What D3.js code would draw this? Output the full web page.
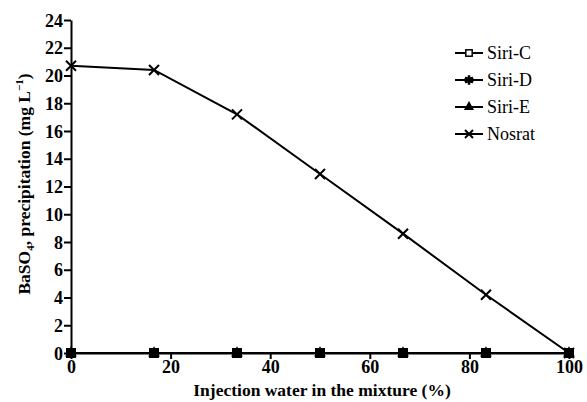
<!DOCTYPE html>
<meta charset="utf-8">
<style>
body { margin: 0; background: #fff; }
.axis path, .axis line { stroke: #000; stroke-width: 2px; }
</style>
<svg width="587" height="402"></svg>
<script src="https://cdn.jsdelivr.net/npm/d3@7"></script>
<script>
var svg = d3.select("svg");

// injection water share (%)
var xvals = [0, 16.67, 33.33, 50, 66.67, 83.33, 100];
var siriC = [0, 0, 0, 0, 0, 0, 0];
var siriD = [0, 0, 0, 0, 0, 0, 0];
var siriE = [0, 0, 0, 0, 0, 0, 0];
var nosrat = [20.7, 20.4, 17.2, 12.9, 8.6, 4.2, 0];
var names = ["Siri-C", "Siri-D", "Siri-E", "Nosrat"];
var xticks = [0, 20, 40, 60, 80, 100];
var yticks = [0, 2, 4, 6, 8, 10, 12, 14, 16, 18, 20, 22, 24];

var x = d3.scaleLinear().domain([0, 100]).range([71, 569]);
var y = d3.scaleLinear().domain([0, 24]).range([353, 20]);

var fam = "Liberation Serif";

svg.append("g").attr("class", "axis")
    .attr("transform", "translate(0,353)")
    .call(d3.axisBottom(x).tickValues(xticks).tickSize(6).tickSizeOuter(0))
    .attr("font-family", fam).attr("font-size", 18).attr("font-weight", "bold")
    .selectAll("text").attr("dy", "0.72em").attr("y", 7);

svg.append("g").attr("class", "axis")
    .attr("transform", "translate(71,0)")
    .call(d3.axisLeft(y).tickValues(yticks).tickSize(7).tickSizeOuter(0))
    .attr("font-family", fam).attr("font-size", 18).attr("font-weight", "bold")
    .selectAll("text").attr("x", -8).attr("dy", "0.34em");

var line = d3.line().x(function(d) { return x(d[0]); }).y(function(d) { return y(d[1]); });
function pairs(v) { return xvals.map(function(xv, i) { return [xv, v[i]]; }); }

var series = [siriC, siriD, siriE, nosrat];
series.forEach(function(v) {
  svg.append("path").attr("d", line(pairs(v)))
    .attr("fill", "none").attr("stroke", "#000").attr("stroke-width", 2);
});

function marker(g, k, cx, cy, big) {
  var s = big ? 1 : 0.8;
  if (k == 0) {
    g.append("rect").attr("x", cx - 4 * s).attr("y", cy - 4 * s)
      .attr("width", 8 * s).attr("height", 8 * s)
      .attr("fill", "#fff").attr("stroke", "#000").attr("stroke-width", 1.5);
  } else if (k == 1) {
    if (big) {
      g.append("rect").attr("x", cx - 5).attr("y", cy - 5).attr("width", 10).attr("height", 10).attr("fill", "#000");
    } else {
      g.append("path").attr("transform", "translate(" + cx + "," + cy + ")")
        .attr("d", d3.symbol().type(d3.symbolAsterisk).size(60)()).attr("stroke", "#000").attr("stroke-width", 2.5);
      g.append("circle").attr("cx", cx).attr("cy", cy).attr("r", 3).attr("fill", "#000");
    }
  } else if (k == 2) {
    g.append("path").attr("transform", "translate(" + cx + "," + cy + ")")
      .attr("d", d3.symbol().type(d3.symbolTriangle).size(big ? 60 : 45)()).attr("fill", "#000");
  } else {
    var r = big ? 5 : 4;
    g.append("path").attr("d", "M" + (cx - r) + "," + (cy - r) + "L" + (cx + r) + "," + (cy + r) +
      "M" + (cx - r) + "," + (cy + r) + "L" + (cx + r) + "," + (cy - r))
      .attr("stroke", "#000").attr("stroke-width", 2);
  }
}

var mk = svg.append("g");
[0, 2, 1, 3].forEach(function(k) {
  pairs(series[k]).forEach(function(p) { marker(mk, k, x(p[0]), y(p[1]), true); });
});

var lg = svg.append("g").attr("font-family", fam).attr("font-size", 18);
names.forEach(function(n, i) {
  var ly = 53 + i * 27;
  lg.append("line").attr("x1", 455).attr("x2", 483).attr("y1", ly).attr("y2", ly)
    .attr("stroke", "#000").attr("stroke-width", 2);
  marker(lg, i, 469, ly, false);
  lg.append("text").attr("x", 487).attr("y", ly).attr("dy", "0.35em").text(n);
});

svg.append("text").attr("font-family", fam).attr("font-size", 17.5).attr("font-weight", "bold")
    .attr("x", 322).attr("y", 396).attr("text-anchor", "middle")
    .text("Injection water in the mixture (%)");

var yt = svg.append("text").attr("font-family", fam).attr("font-size", 17.5).attr("font-weight", "bold")
    .attr("transform", "translate(30,184) rotate(-90)").attr("text-anchor", "middle");
yt.append("tspan").text("BaSO");
yt.append("tspan").attr("font-size", "11px").attr("dy", "4").text("4");
yt.append("tspan").attr("dy", "-4").text(", precipitation (mg L");
yt.append("tspan").attr("font-size", "11px").attr("dy", "-7").text("\u22121");
yt.append("tspan").attr("dy", "7").text(")");
</script>
